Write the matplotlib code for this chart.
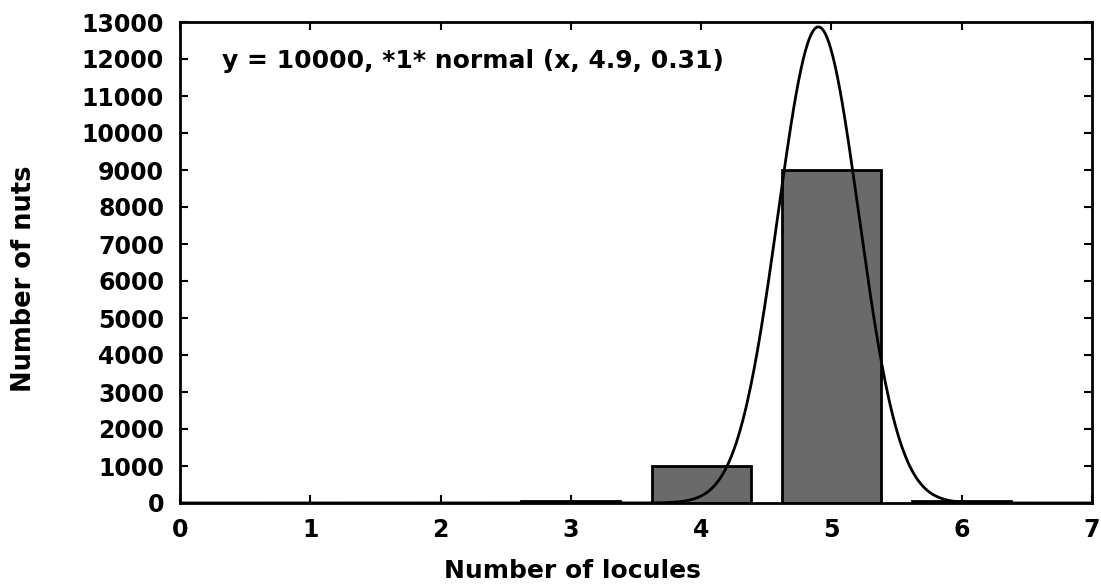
import numpy as np
import matplotlib.pyplot as plt

plt.rcParams['font.family'] = ['DejaVu Sans']
plt.rcParams['font.weight'] = 'bold'

locules = [3, 4, 5, 6]
nuts = [60, 1000, 9000, 50]

# fitted normal: y = 10000 * 1 * normal(x, 4.9, 0.31)
fit_n = 10000
fit_mu = 4.9
fit_sd = 0.31

fig = plt.figure(figsize=(11.01, 5.87), dpi=100)
ax = fig.add_axes([180 / 1101, 1 - 503 / 587, (1092 - 180) / 1101, (503 - 22) / 587])

ax.bar(locules, nuts, width=0.76, color='#6a6a6a', edgecolor='black', linewidth=2, zorder=2)

x = np.linspace(0, 7, 800)
y = fit_n * np.exp(-0.5 * ((x - fit_mu) / fit_sd) ** 2) / (fit_sd * np.sqrt(2 * np.pi))
ax.plot(x, y, color='black', linewidth=2, zorder=3)

ax.set_xlim(0, 7)
ax.set_ylim(0, 13000)
ax.set_xticks(range(0, 8))
ax.set_yticks(range(0, 13001, 1000))
ax.tick_params(direction='in', top=True, right=True, length=6, width=1.5,
               labelsize=17)
ax.tick_params(axis='y', pad=11.5)
ax.tick_params(axis='x', pad=11)
for lab in ax.get_xticklabels() + ax.get_yticklabels():
    lab.set_fontweight('bold')
for sp in ax.spines.values():
    sp.set_linewidth(2)

fig.text(222 / 1101, 1 - 61 / 587, 'y = 10000, *1* normal (x, 4.9, 0.31)',
         fontsize=18, fontweight='bold', va='center', ha='left')

ax.set_xlabel('Number of locules', fontsize=18, fontweight='bold')
ax.set_ylabel('Number of nuts', fontsize=18.5, fontweight='bold')
ax.xaxis.set_label_coords(0.43, -0.116)
ax.yaxis.set_label_coords(-0.157, 0.466)

fig.savefig('out.png', dpi=100)
